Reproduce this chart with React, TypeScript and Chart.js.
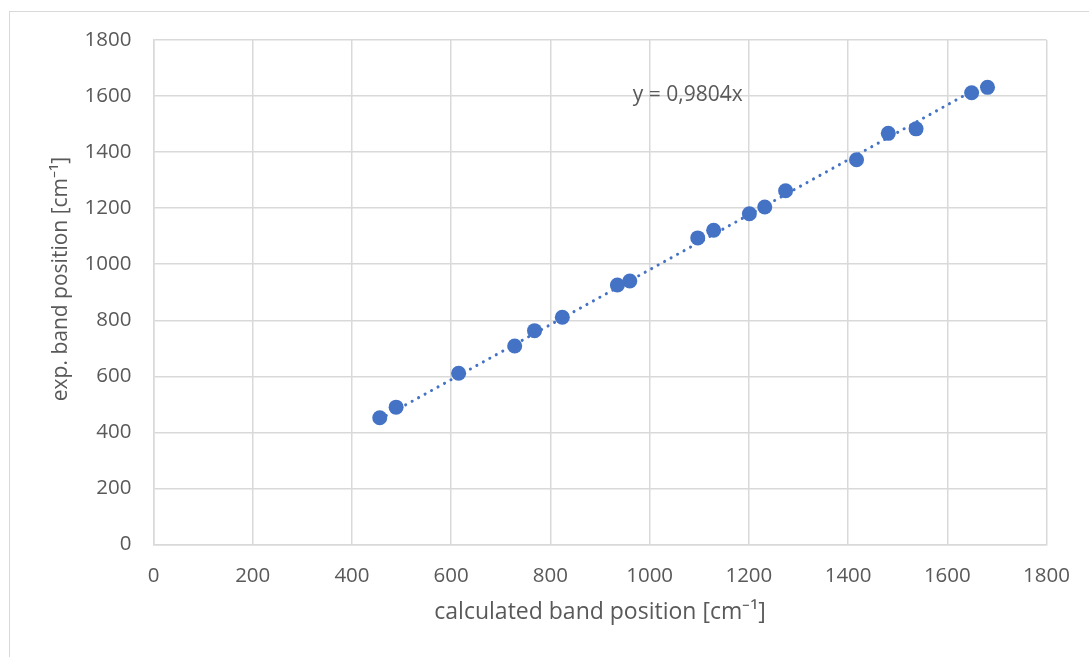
import React, { useEffect, useRef } from "react";
import { Chart, registerables } from "chart.js";

Chart.register(...registerables);

// calculated band positions [cm-1]
const calcX = [456, 489, 615, 728, 768, 824, 935, 960, 1097, 1129, 1201, 1232, 1274, 1417, 1481, 1537, 1649, 1681];
// experimental band positions [cm-1]
const expY = [452, 490, 611, 708, 763, 811, 926, 940, 1094, 1121, 1180, 1204, 1262, 1373, 1467, 1483, 1612, 1631];
const slope = 0.9804;
const trendX = [456, 1681];
const tickValues = [0, 200, 400, 600, 800, 1000, 1200, 1400, 1600, 1800];
const equationLabel = "y = 0,9804x";
const xTitle = "calculated band position [cm\u207B\u00B9]";
const yTitle = "exp. band position [cm\u207B\u00B9]";

const FONT = "'Open Sans', sans-serif";
const TEXT = "#595959";
const GRID = "#D9D9D9";
const BLUE = "#4472C4";

export default function App() {
  const ref = useRef<HTMLCanvasElement | null>(null);
  useEffect(() => {
    if (!ref.current) return;
    const labelPlugin = {
      id: "eqLabel",
      afterDraw(chart: any) {
        const ctx = chart.ctx;
        const xs = chart.scales.x;
        const ys = chart.scales.y;
        ctx.save();
        ctx.font = `21px ${FONT}`;
        ctx.fillStyle = TEXT;
        ctx.textBaseline = "middle";
        ctx.textAlign = "left";
        ctx.fillText(equationLabel, xs.getPixelForValue(966), ys.getPixelForValue(1605));
        // vertical axis title
        ctx.translate(61, 279);
        ctx.rotate(-Math.PI / 2);
        ctx.textAlign = "center";
        ctx.font = `21px ${FONT}`;
        ctx.fillText(yTitle, 0, 0);
        ctx.restore();
      },
    };
    const chart = new Chart(ref.current, {
      type: "scatter",
      data: {
        datasets: [
          {
            label: "trend",
            data: trendX.map((x) => ({ x, y: slope * x })),
            showLine: true,
            borderColor: BLUE,
            borderWidth: 3,
            borderDash: [0.1, 7.3],
            borderCapStyle: "round",
            pointRadius: 0,
            fill: false,
          } as any,
          {
            label: "data",
            data: calcX.map((x, i) => ({ x, y: expY[i] })),
            backgroundColor: BLUE,
            borderColor: BLUE,
            borderWidth: 0,
            pointRadius: 7.5,
          },
        ],
      },
      options: {
        animation: false,
        responsive: true,
        maintainAspectRatio: false,
        layout: { padding: { left: 0, top: 40, right: 42, bottom: 0 } },
        plugins: { legend: { display: false }, tooltip: { enabled: false } },
        scales: {
          x: {
            type: "linear",
            min: 0,
            max: 1800,
            afterBuildTicks: (s: any) => {
              s.ticks = tickValues.map((v) => ({ value: v }));
            },
            afterFit: (s: any) => {
              s.height = 112.5;
            },
            grid: { color: GRID, lineWidth: 1.5, drawTicks: false },
            border: { color: GRID, width: 1.5 },
            ticks: {
              color: TEXT,
              font: { family: FONT, size: 20.5 },
              padding: 19,
              callback: (v: any) => String(v),
            },
            title: {
              display: true,
              text: xTitle,
              color: TEXT,
              font: { family: FONT, size: 23 },
              padding: { top: 30.5, bottom: 30.5 },
            },
          },
          y: {
            type: "linear",
            min: 0,
            max: 1800,
            afterBuildTicks: (s: any) => {
              s.ticks = tickValues.map((v) => ({ value: v }));
            },
            afterFit: (s: any) => {
              s.width = 153.5;
            },
            grid: { color: GRID, lineWidth: 1.5, drawTicks: false },
            border: { color: GRID, width: 1.5 },
            ticks: {
              color: TEXT,
              font: { family: FONT, size: 20.5 },
              padding: 22,
              callback: (v: any) => String(v),
            },
            title: { display: false },
          },
        },
      },
      plugins: [labelPlugin],
    });
    return () => chart.destroy();
  }, []);
  return (
    <div style={{ position: "absolute", left: 0, top: 0, width: 1089, height: 657, background: "#fff", overflow: "hidden" }}>
      <div style={{ position: "absolute", left: 9, top: 11, width: 1200, height: 800, border: "1px solid #D9D9D9", boxSizing: "border-box" }} />
      <canvas ref={ref} style={{ position: "absolute", left: 0, top: 0 }} />
    </div>
  );
}
